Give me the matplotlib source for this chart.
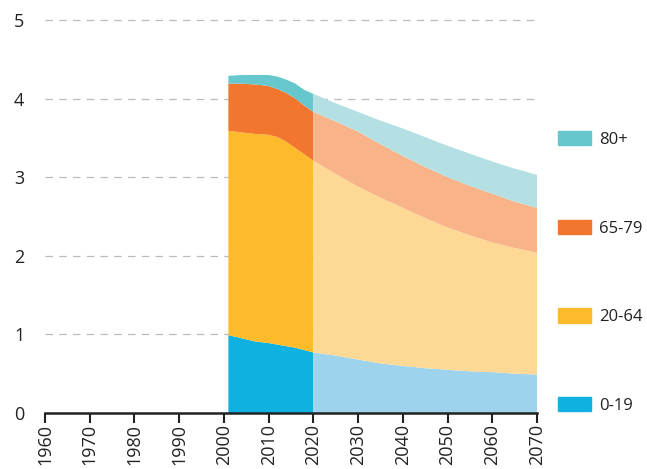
import matplotlib.pyplot as plt
from matplotlib.patches import Patch

# historical (dark) and projected (light) population by age group, millions
hist_years = [2001, 2004, 2007, 2010, 2012, 2014, 2016, 2018, 2020]
hist_0_19 = [0.99, 0.95, 0.91, 0.89, 0.87, 0.85, 0.83, 0.80, 0.77]
hist_20_64 = [2.60, 2.62, 2.64, 2.65, 2.64, 2.60, 2.54, 2.49, 2.44]
hist_65_79 = [0.60, 0.62, 0.63, 0.62, 0.61, 0.62, 0.63, 0.62, 0.62]
hist_80 = [0.10, 0.11, 0.12, 0.14, 0.16, 0.17, 0.19, 0.20, 0.23]

proj_years = [2020, 2025, 2030, 2035, 2040, 2045, 2050, 2055, 2060, 2065, 2070]
proj_0_19 = [0.77, 0.73, 0.68, 0.63, 0.60, 0.57, 0.55, 0.53, 0.52, 0.50, 0.49]
proj_20_64 = [2.44, 2.31, 2.20, 2.11, 2.01, 1.91, 1.81, 1.73, 1.65, 1.60, 1.55]
proj_65_79 = [0.62, 0.67, 0.70, 0.68, 0.66, 0.65, 0.64, 0.63, 0.62, 0.59, 0.57]
proj_80 = [0.23, 0.23, 0.25, 0.30, 0.35, 0.38, 0.40, 0.41, 0.41, 0.42, 0.42]

labels = ['0-19', '20-64', '65-79', '80+']
dark = ['#0eb1df', '#fdbb2b', '#f2762e', '#66c8cc']
light = ['#9dd3ec', '#fdd995', '#f8b488', '#b4e0e3']

plt.rcParams['font.family'] = ['Open Sans', 'DejaVu Sans']

fig = plt.figure(figsize=(6.47, 4.69), dpi=100)
ax = fig.add_axes([45 / 647, 1 - 413 / 469, 492 / 647, 393 / 469])

ax.stackplot(hist_years, hist_0_19, hist_20_64, hist_65_79, hist_80,
             colors=dark, linewidth=0)
ax.stackplot(proj_years, proj_0_19, proj_20_64, proj_65_79, proj_80,
             colors=light, linewidth=0)

ax.set_xlim(1960, 2070)
ax.set_ylim(0, 5)
ax.set_xticks(range(1960, 2071, 10))
ax.set_yticks(range(0, 6))
for y in range(1, 6):
    ax.axhline(y, color='#bbbbbb', lw=0.9, ls=(0, (6, 5)), zorder=0, clip_on=False)

for s in ['top', 'right', 'left']:
    ax.spines[s].set_visible(False)
ax.spines['bottom'].set_linewidth(1.8)
ax.spines['bottom'].set_color('#222222')
ax.tick_params(axis='x', length=7, width=1.5, color='#222222', labelrotation=90,
               labelsize=13, labelcolor='#222222', pad=1)
ax.tick_params(axis='y', length=0, labelsize=13, labelcolor='#222222', pad=15)

handles = [Patch(color=c, label=l) for c, l in zip(dark, labels)][::-1]
fig.legend(handles=handles, loc='upper left', bbox_to_anchor=(558 / 647, 1 - 131 / 469),
           frameon=False, fontsize=12, handlelength=2.0, handleheight=0.95,
           labelspacing=4.3, handletextpad=0.45, borderpad=0, borderaxespad=0,
           labelcolor='#222222')

plt.savefig('out.png', dpi=100)
